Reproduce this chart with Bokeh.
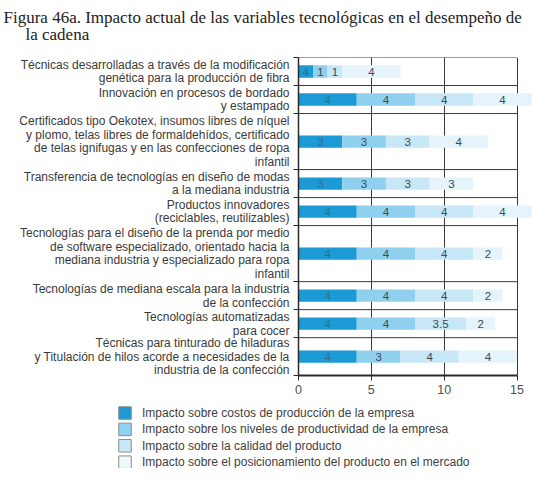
import pandas as pd
from bokeh.plotting import figure
from bokeh.layouts import column
from bokeh.models import ColumnDataSource, Range1d, FixedTicker
from bokeh.core.properties import value
from bokeh.embed import file_html
from bokeh.resources import INLINE

title_lines = [
    "Figura 46a. Impacto actual de las variables tecnológicas en el desempeño de",
    "la cadena",
]

categories = [
    "Técnicas desarrolladas a través de la modificación\ngenética para la producción de fibra",
    "Innovación en procesos de bordado\ny estampado",
    "Certificados tipo Oekotex, insumos libres de níquel\ny plomo, telas libres de formaldehídos, certificado\nde telas ignifugas y en las confecciones de ropa\ninfantil",
    "Transferencia de tecnologías en diseño de modas\na la mediana industria",
    "Productos innovadores\n(reciclables, reutilizables)",
    "Tecnologías para el diseño de la prenda por medio\nde software especializado, orientado hacia la\nmediana industria y especializado para ropa\ninfantil",
    "Tecnologías de mediana escala para la industria\nde la confección",
    "Tecnologías automatizadas\npara cocer",
    "Técnicas para tinturado de hiladuras\ny Titulación de hilos acorde a necesidades de la\nindustria de la confección",
]

series = [
    "Impacto sobre costos de producción de la empresa",
    "Impacto sobre los niveles de productividad de la empresa",
    "Impacto sobre la calidad del producto",
    "Impacto sobre el posicionamiento del producto en el mercado",
]

costos = [1, 4, 3, 3, 4, 4, 4, 4, 4]
productividad = [1, 4, 3, 3, 4, 4, 4, 4, 3]
calidad = [1, 4, 3, 3, 4, 4, 4, 3.5, 4]
posicionamiento = [4, 4, 4, 3, 4, 2, 2, 2, 4]

# label printed on the dark segment (first row reads 4 in the source)
costos_labels = ["4", "4", "3", "3", "4", "4", "4", "4", "4"]

x_ticks = [0, 5, 10, 15]

# row heights follow the number of label lines
ROW_SPAN = [2, 2, 4, 2, 2, 4, 2, 2, 2.7]

colors = ["#1b9ad6", "#8fd0ef", "#c7e7f7", "#e5f4fb"]
legend_colors = ["#1d9ad5", "#8fd1f1", "#c9e8f7", "#eef8fd"]
text_colors = ["#3b6a90", "#3d4854", "#3d4854", "#3d4854"]

W = 534
LEG_H = 65
bounds = [0]
for s in ROW_SPAN:
    bounds.append(bounds[-1] + s)
centers = [(a + b) / 2 for a, b in zip(bounds[:-1], bounds[1:])]


def fmt(v):
    return f"{v:g}"


def strip(h):
    fig = figure(width=W, height=h, x_range=Range1d(0, W), y_range=Range1d(h, 0),
                 x_axis_type=None, y_axis_type=None, min_border=0, frame_align=False,
                 output_backend="svg", toolbar_location=None)
    fig.outline_line_color = None
    fig.grid.grid_line_color = None
    return fig


# title strip
tf = strip(44)
tf.text(x=[3, 25], y=[16.7, 34], text=title_lines,
        text_font=value("Liberation Serif"), text_font_size="17px",
        text_color="#222222", text_baseline="alphabetic")

# main chart
df = pd.DataFrame({"y": centers, "costos": costos, "productividad": productividad,
                   "calidad": calidad, "posicionamiento": posicionamiento})
keys = ["costos", "productividad", "calidad", "posicionamiento"]
left = [0] * len(df)
for k in keys:
    df[k + "_mid"] = [l + v / 2 for l, v in zip(left, df[k])]
    left = [l + v for l, v in zip(left, df[k])]
df["costos_lbl"] = costos_labels
for k in keys[1:]:
    df[k + "_lbl"] = [fmt(v) for v in df[k]]
source = ColumnDataSource(df)

p = figure(width=W, height=359, title=None, frame_align=False,
           x_range=Range1d(0, 16.2), y_range=Range1d(bounds[-1], 0),
           output_backend="svg", toolbar_location=None,
           min_border_left=298, min_border_right=0, min_border_top=13, min_border_bottom=28)
p.outline_line_color = None

p.hbar_stack(keys, y="y", height=0.88, fill_color=colors, line_color=None, source=source)

for k, tc in zip(keys, text_colors):
    p.text(x=k + "_mid", y="y", text=k + "_lbl", source=source,
           text_font=value("Liberation Sans"), text_font_size="11.5px",
           text_color=tc, text_align="center", text_baseline="middle")

# row separators and top border, drawn up to the last axis tick
p.segment(x0=x_ticks[0], x1=x_ticks[-1], y0=bounds[:-1], y1=bounds[:-1],
          line_color="#3a3a3a", line_width=1)

p.xgrid.ticker = FixedTicker(ticks=x_ticks[1:])
p.xgrid.grid_line_color = "#3a3a3a"
p.ygrid.grid_line_color = None

p.xaxis.ticker = FixedTicker(ticks=x_ticks)
p.xaxis.bounds = (x_ticks[0], x_ticks[-1])
p.xaxis.axis_line_color = "#2a2a2a"
p.xaxis.axis_line_width = 2
p.xaxis.major_tick_line_color = "#2a2a2a"
p.xaxis.major_tick_out = 5
p.xaxis.major_tick_in = 0
p.xaxis.minor_tick_line_color = None
p.xaxis.major_label_standoff = 4
p.xaxis.major_label_text_font = "Liberation Sans"
p.xaxis.major_label_text_font_size = "12.5px"
p.xaxis.major_label_text_color = "#505050"

p.yaxis.ticker = FixedTicker(ticks=centers, minor_ticks=bounds)
p.yaxis.major_label_overrides = {c: t for c, t in zip(centers, categories)}
p.yaxis.axis_line_color = "#2a2a2a"
p.yaxis.axis_line_width = 1.5
p.yaxis.major_tick_line_color = None
p.yaxis.major_tick_out = 0
p.yaxis.major_tick_in = 0
p.yaxis.minor_tick_line_color = "#2a2a2a"
p.yaxis.minor_tick_out = 5
p.yaxis.minor_tick_in = 0
p.yaxis.major_label_standoff = 4
p.yaxis.major_label_text_font = "Liberation Sans"
p.yaxis.major_label_text_font_size = "12px"
p.yaxis.major_label_text_line_height = 0.98
p.yaxis.major_label_text_color = "#3a3a3a"

# legend strip, drawn by hand so the swatches get their grey border
lf = strip(LEG_H)
leg_y = [9.5 + 16.4 * i for i in range(len(series))]
lf.rect(x=124.5, y=leg_y, width=12.5, height=12.5, fill_color=legend_colors,
        line_color="#8c8c8c", line_width=1)
lf.text(x=141.5, y=leg_y, text=series, text_font=value("Liberation Sans"),
        text_font_size="12px", text_color="#404040", text_baseline="middle")

layout = column(tf, p, lf, spacing=0)
open("out.html", "w").write(file_html(layout, INLINE))
